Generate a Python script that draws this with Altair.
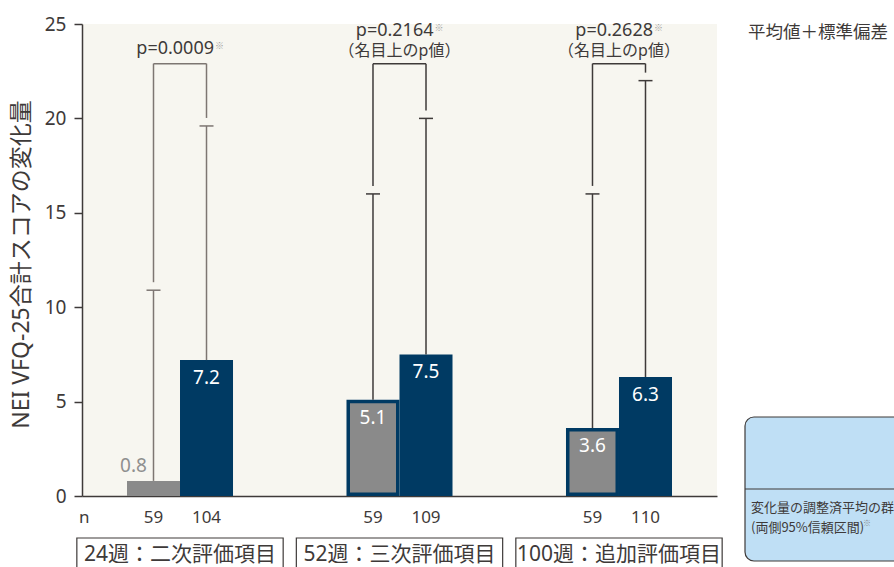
import altair as alt
import pandas as pd

# ---- values ----
periods = ["24週：二次評価項目", "52週：三次評価項目", "100週：追加評価項目"]
gray_mean = [0.8, 5.1, 3.6]
gray_sd = [10.1, 10.9, 12.4]
blue_mean = [7.2, 7.5, 6.3]
blue_sd = [12.4, 12.5, 15.7]
gray_n = [59, 59, 59]
blue_n = [104, 109, 110]
p_text = ["p=0.0009", "p=0.2164", "p=0.2628"]
p_note = ["", "（名目上のp値）", "（名目上のp値）"]
bracket_level = [22.9, 22.9, 22.9]
y_title = "NEI VFQ-25合計スコアの変化量"
stat_label = "平均値＋標準偏差"
box_lines = ["変化量の調整済平均の群間差", "(両側95%信頼区間)"]

# ---- styling ----
FONT = "Noto Sans, Noto Sans CJK JP"
CJK = "Noto Sans CJK JP"
BLUE = "#003a63"
GRAY = "#8a8a8a"
DARK = "#3e3a39"
LIGHT_LINE = "#7d7672"
BAR_W = 0.2415

bar_rows, vert_rows, group_rows = [], [], []
for i, per in enumerate(periods):
    pos = i + 1
    line_col = LIGHT_LINE if i == 0 else DARK
    g_top = gray_mean[i] + gray_sd[i]
    b_top = blue_mean[i] + blue_sd[i]
    bar_rows.append(dict(period=per, arm="A", x0=pos - BAR_W, x1=pos, xc=pos - BAR_W / 2,
                         mean=gray_mean[i], top=g_top, n=str(gray_n[i]),
                         outlined=i > 0, inside=gray_mean[i] > 2,
                         label=f"{gray_mean[i]:.1f}", lc=line_col))
    bar_rows.append(dict(period=per, arm="B", x0=pos, x1=pos + BAR_W, xc=pos + BAR_W / 2,
                         mean=blue_mean[i], top=b_top, n=str(blue_n[i]),
                         outlined=False, inside=blue_mean[i] > 2,
                         label=f"{blue_mean[i]:.1f}", lc=line_col))
    vert_rows.append(dict(x=pos - BAR_W / 2, ytop=bracket_level[i], ybot=g_top, lc=line_col))
    vert_rows.append(dict(x=pos + BAR_W / 2, ytop=bracket_level[i], ybot=b_top, lc=line_col))
    group_rows.append(dict(period=per, pos=pos, xl=pos - BAR_W / 2, xr=pos + BAR_W / 2,
                           yb=bracket_level[i], lc=line_col,
                           p=p_text[i], note=p_note[i],
                           py=23.7 if p_note[i] == "" else 24.62,
                           ny=23.56,
                           bl=pos - 0.47, br=pos + 0.47))

bars = pd.DataFrame(bar_rows)
verts = pd.DataFrame(vert_rows)
groups = pd.DataFrame(group_rows)

x_scale = alt.Scale(domain=[0.5535, 3.4465], nice=False, zero=False)
y_scale = alt.Scale(domain=[0, 25], nice=False, zero=True)
x_axis = alt.Axis(labels=False, ticks=False, title=None, grid=False,
                  domainColor=DARK, domainWidth=1.5)
y_axis = alt.Axis(values=[0, 5, 10, 15, 20, 25], grid=False, title=y_title,
                  labelFont=FONT, labelFontSize=19, labelColor=DARK, labelPadding=8,
                  tickSize=8, tickColor=DARK, tickWidth=1.5,
                  domainColor=DARK, domainWidth=1.5,
                  titleFont=FONT, titleFontSize=23, titleFontWeight="normal",
                  titleColor=DARK, titleX=-61, titleY=240, titleAngle=270,
                  titleBaseline="middle", titleAlign="center")


def X(f):
    return alt.X(f, type="quantitative", scale=x_scale, axis=x_axis)


def Y(f):
    return alt.Y(f, type="quantitative", scale=y_scale, axis=y_axis)


bar_base = alt.Chart(bars)

blue_bars = bar_base.transform_filter("datum.arm == 'B'").mark_rect(color=BLUE).encode(
    x=X("x0"), x2="x1", y=Y("mean"), y2=alt.datum(0))
gray_plain = bar_base.transform_filter("datum.arm == 'A' && !datum.outlined").mark_rect(color=GRAY).encode(
    x=X("x0"), x2="x1", y=Y("mean"), y2=alt.datum(0))
gray_frame = bar_base.transform_filter("datum.arm == 'A' && datum.outlined").mark_rect(color=BLUE).encode(
    x=X("x0"), x2="x1", y=Y("mean"), y2=alt.datum(0))
gray_inner = bar_base.transform_filter("datum.arm == 'A' && datum.outlined").mark_rect(
    color=GRAY, xOffset=3.5, x2Offset=-3.5, yOffset=3.5, y2Offset=-3.5).encode(
    x=X("x0"), x2="x1", y=Y("mean"), y2=alt.datum(0))

err_line = bar_base.mark_rule(strokeWidth=1.5).encode(
    x=X("xc"), y=Y("mean"), y2="top", color=alt.Color("lc:N", scale=None))
err_cap = bar_base.mark_rule(strokeWidth=1.5, xOffset=-7, x2Offset=7).encode(
    x=X("xc"), x2="xc", y=Y("top"), color=alt.Color("lc:N", scale=None))

bracket_v = alt.Chart(verts).mark_rule(strokeWidth=1.5, y2Offset=-8).encode(
    x=X("x"), y=Y("ytop"), y2="ybot", color=alt.Color("lc:N", scale=None))
bracket_h = alt.Chart(groups).mark_rule(strokeWidth=1.5).encode(
    x=X("xl"), x2="xr", y=Y("yb"), color=alt.Color("lc:N", scale=None))

label_in = bar_base.transform_filter("datum.inside").mark_text(
    font=FONT, fontSize=19, color="white", baseline="middle", dy=18).encode(
    x=X("xc"), y=Y("mean"), text="label")
label_out = bar_base.transform_filter("!datum.inside").mark_text(
    font=FONT, fontSize=19, color="#8f8f8f", baseline="middle", dy=-15, dx=-20).encode(
    x=X("xc"), y=Y("mean"), text="label")

g_base = alt.Chart(groups)
p_main = g_base.mark_text(font=FONT, fontSize=18, color=DARK, align="right",
                          baseline="middle", dx=34).encode(
    x=X("pos"), y=Y("py"), text="p")
p_mark = g_base.mark_text(font=CJK, fontSize=9, color="#a0a0a0", align="left",
                          baseline="middle", dx=35, dy=-3).encode(
    x=X("pos"), y=Y("py"), text=alt.value("※"))
p_sub = g_base.transform_filter("datum.note != ''").mark_text(
    font=FONT, fontSize=16, color=DARK, baseline="middle").encode(
    x=X("pos"), y=Y("ny"), text="note")

n_vals = bar_base.mark_text(font=FONT, fontSize=17, color=DARK, baseline="middle").encode(
    x=X("xc"), y=alt.value(494), text="n")
n_head = alt.Chart(pd.DataFrame({"t": ["n"]})).mark_text(
    font=FONT, fontSize=17, color=DARK, baseline="middle", align="left").encode(
    x=alt.value(-3), y=alt.value(494), text="t")

period_box = g_base.mark_rect(fill="white", stroke=DARK, strokeWidth=1.2).encode(
    x=X("bl"), x2="br", y=alt.value(514), y2=alt.value(556))
period_text = g_base.mark_text(font=FONT, fontSize=21, color=DARK, baseline="middle").encode(
    x=X("pos"), y=alt.value(531), text="period")

stat_text = alt.Chart(pd.DataFrame({"t": [stat_label]})).mark_text(
    font=FONT, fontSize=17.5, color=DARK, align="left", baseline="middle").encode(
    x=alt.value(666), y=alt.value(9), text="t")

legend_box = alt.Chart(pd.DataFrame({"k": [0]})).mark_rect(
    fill="#bfdff5", stroke=DARK, strokeWidth=1.2, cornerRadius=9).encode(
    x=alt.value(663), x2=alt.value(900), y=alt.value(393), y2=alt.value(537))
legend_div = alt.Chart(pd.DataFrame({"k": [0]})).mark_rule(color=DARK, strokeWidth=1.2).encode(
    x=alt.value(663), x2=alt.value(900), y=alt.value(465))
legend_text = alt.Chart(pd.DataFrame({"t": box_lines, "yy": [484, 504]})).mark_text(
    font=CJK, fontSize=13, color=DARK, align="left", baseline="middle").encode(
    x=alt.value(669), y=alt.Y("yy:Q", scale=None), text="t")
legend_mark = alt.Chart(pd.DataFrame({"t": ["※"]})).mark_text(
    font=CJK, fontSize=8, color="#8a8a8a", align="left", baseline="middle").encode(
    x=alt.value(781), y=alt.value(500), text="t")

chart = alt.layer(
    blue_bars, gray_plain, gray_frame, gray_inner,
    bracket_v, bracket_h, err_line, err_cap,
    label_in, label_out, p_main, p_mark, p_sub,
    n_vals, n_head, period_box, period_text,
    stat_text, legend_box, legend_div, legend_text, legend_mark,
).properties(
    width=635, height=472,
    autosize=alt.AutoSizeParams(type="none"),
    padding={"left": 82, "top": 24, "right": 177, "bottom": 71},
    background="white",
).configure_view(fill="#f7f6f0", stroke=None)

chart.save("out.html", embed_options={"renderer": "svg", "actions": False})
